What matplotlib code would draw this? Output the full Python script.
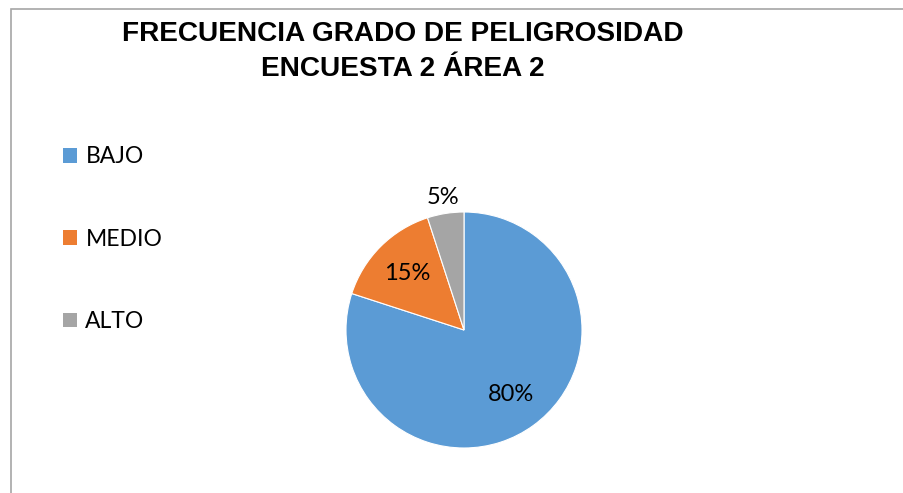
import matplotlib
matplotlib.use("Agg")
import matplotlib.pyplot as plt
from matplotlib.patches import Rectangle, Patch
import numpy as np

categories = ["BAJO", "MEDIO", "ALTO"]
values = [80, 15, 5]
colors = ["#5B9BD5", "#ED7D31", "#A5A5A5"]
title = "FRECUENCIA GRADO DE PELIGROSIDAD\nENCUESTA 2 ÁREA 2"

W, H = 904, 493
fig = plt.figure(figsize=(W / 100, H / 100), dpi=100)
fig.patch.set_facecolor("white")

# chart border
fig.patches.append(Rectangle((11 / W, -0.1), 1.2, 1 - 9 / H + 0.1, transform=fig.transFigure,
                             fill=False, edgecolor="#A6A6A6", linewidth=1.2))

cx, cy, r = 464, 330, 118
ax = fig.add_axes([(cx - r) / W, (H - cy - r) / H, 2 * r / W, 2 * r / H])
wedges, texts, autotexts = ax.pie(values, colors=colors, startangle=90, counterclock=False,
                                  autopct="%d%%", pctdistance=0.68,
                                  wedgeprops=dict(edgecolor="white", linewidth=0.8),
                                  textprops=dict(fontsize=17, family="Lato", color="black"))
ax.set_xlim(-1, 1)
ax.set_ylim(-1, 1)
ax.set_aspect("equal")
ax.axis("off")

# place small slice label outside
for w, t, v in zip(wedges, autotexts, values):
    if v < 10:
        ang = np.deg2rad((w.theta1 + w.theta2) / 2)
        t.set_position((1.14 * np.cos(ang), 1.14 * np.sin(ang)))

fig.text(403 / W, 1 - 51.5 / H, title, ha="center", va="center", fontsize=20.2,
         fontweight="bold", family="Liberation Sans", linespacing=1.42)

handles = [Patch(facecolor=c, edgecolor="none") for c in colors]
fig.legend(handles, categories, loc="upper left", bbox_to_anchor=(54 / W, 1 - 137 / H),
           frameon=False, prop=dict(family="Lato", size=16.5), handlelength=0.62,
           handleheight=0.62, handletextpad=0.35, labelspacing=2.68, borderaxespad=0)

fig.savefig("out.png", dpi=100, facecolor="white")
